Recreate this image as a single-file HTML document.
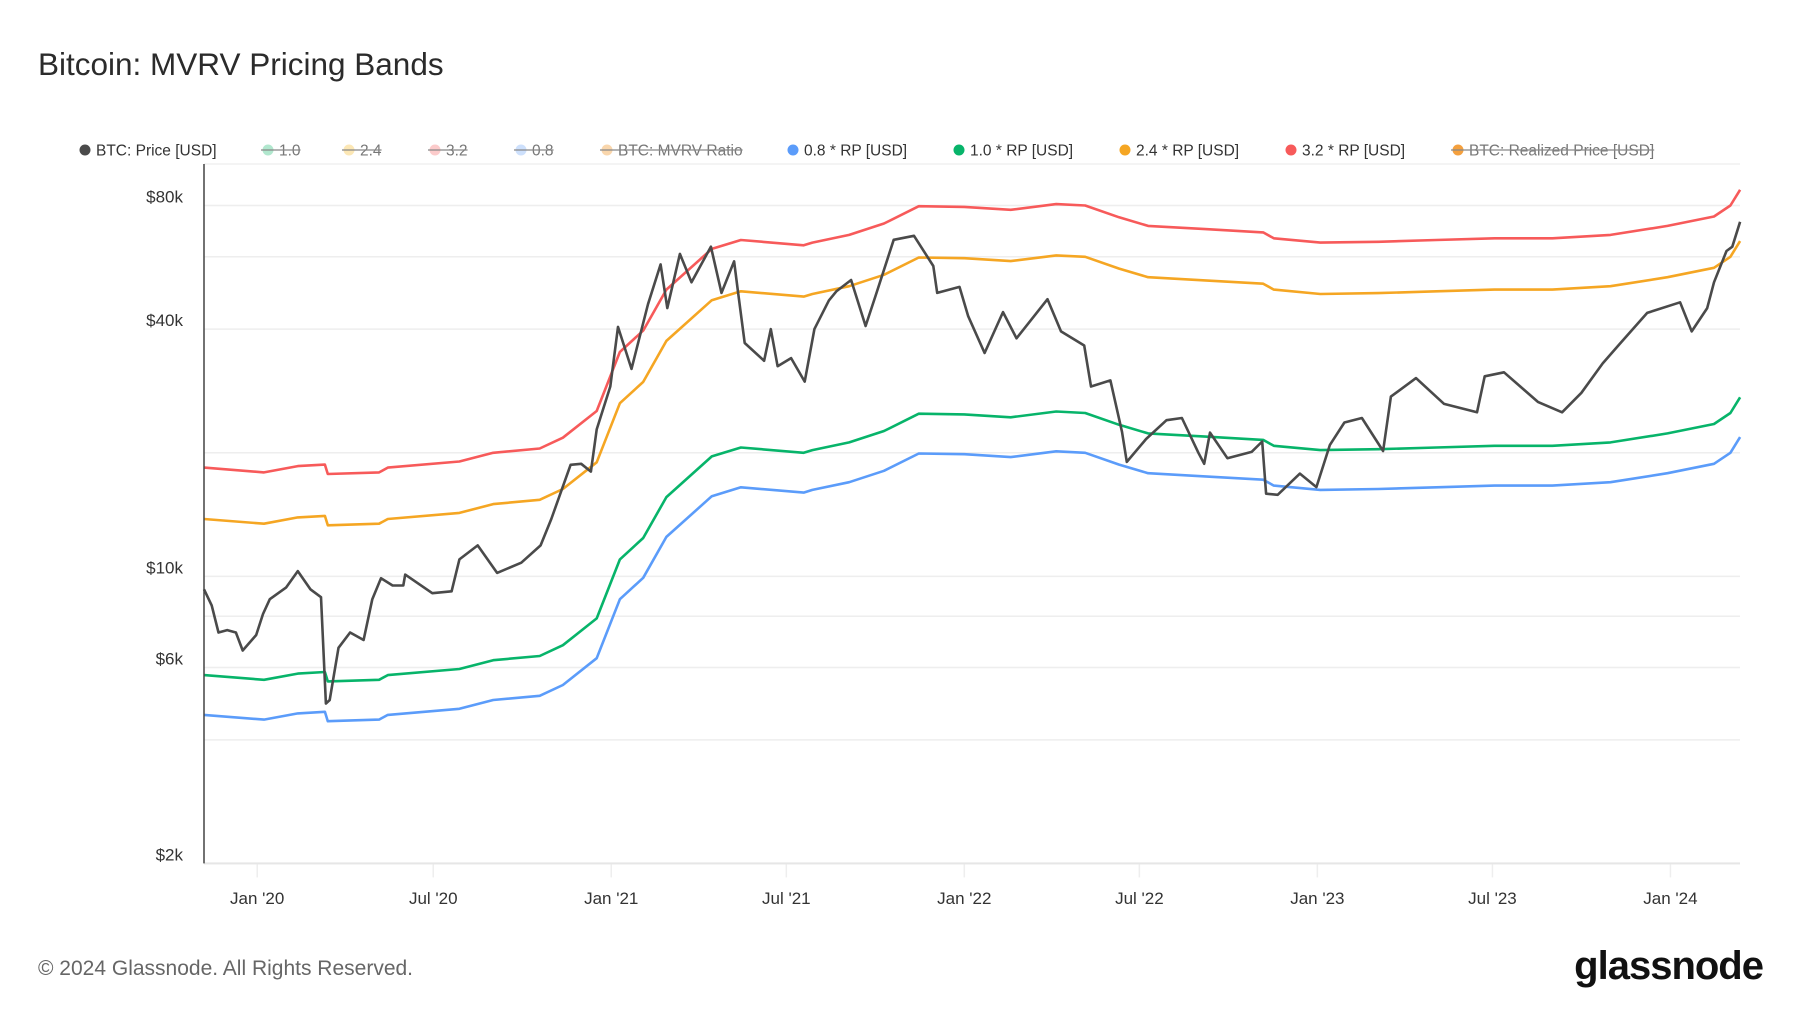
<!DOCTYPE html>
<html><head><meta charset="utf-8"><style>
html,body{margin:0;padding:0;background:#fff;}
body{width:1800px;height:1013px;position:relative;overflow:hidden;font-family:"Liberation Sans",sans-serif;}
</style></head><body>
<svg id="chart" width="1800" height="1013" xmlns="http://www.w3.org/2000/svg" style="position:absolute;left:0;top:0">
<text x="38" y="75" font-size="31.5" fill="#2b2b2b" font-family="Liberation Sans, sans-serif">Bitcoin: MVRV Pricing Bands</text>
<g id="legend" font-size="15.5" font-family="Liberation Sans, sans-serif"></g>
<g id="grid"></g>
<g id="series"></g>
<g id="axes"></g>
<text x="38" y="975" font-size="21" fill="#666">© 2024 Glassnode. All Rights Reserved.</text>
<text x="1763" y="979" text-anchor="end" font-size="40" font-weight="bold" fill="#111" letter-spacing="-1">glassnode</text>
</svg>
<script>
const yTicks=[2000,4000,6000,8000,10000,20000,40000,60000,80000];
const yLabels=["$2k","","$6k","","$10k","","$40k","","$80k"];
const xTickDates=["2020-01-01","2020-07-01","2021-01-01","2021-07-01","2022-01-01","2022-07-01","2023-01-01","2023-07-01","2024-01-01"];
const xTickLabels=["Jan '20","Jul '20","Jan '21","Jul '21","Jan '22","Jul '22","Jan '23","Jul '23","Jan '24"];
const priceDates=["2019-11-07","2019-11-15","2019-11-22","2019-12-01","2019-12-10","2019-12-17","2019-12-31","2020-01-07","2020-01-14","2020-01-31","2020-02-12","2020-02-25","2020-03-07","2020-03-12","2020-03-16","2020-03-25","2020-04-06","2020-04-20","2020-04-29","2020-05-08","2020-05-20","2020-05-31","2020-06-02","2020-06-30","2020-07-20","2020-07-28","2020-08-16","2020-09-05","2020-09-30","2020-10-20","2020-10-31","2020-11-20","2020-12-01","2020-12-11","2020-12-17","2020-12-31","2021-01-08","2021-01-22","2021-02-08","2021-02-21","2021-02-28","2021-03-13","2021-03-25","2021-04-14","2021-04-25","2021-05-08","2021-05-12","2021-05-19","2021-06-08","2021-06-15","2021-06-22","2021-07-06","2021-07-20","2021-07-30","2021-08-14","2021-08-22","2021-09-06","2021-09-21","2021-10-01","2021-10-20","2021-11-10","2021-11-30","2021-12-04","2021-12-27","2022-01-05","2022-01-22","2022-02-10","2022-02-24","2022-03-28","2022-04-11","2022-05-05","2022-05-12","2022-06-01","2022-06-13","2022-06-18","2022-07-08","2022-07-29","2022-08-14","2022-08-31","2022-09-06","2022-09-12","2022-09-30","2022-10-25","2022-11-05","2022-11-09","2022-11-21","2022-12-14","2022-12-31","2023-01-14","2023-01-29","2023-02-16","2023-03-10","2023-03-18","2023-04-13","2023-05-12","2023-06-15","2023-06-23","2023-07-13","2023-08-17","2023-09-11","2023-10-01","2023-10-23","2023-11-09","2023-12-08","2024-01-11","2024-01-23","2024-02-08","2024-02-15","2024-02-28","2024-03-05","2024-03-13"];
const priceValues=[9300,8500,7300,7400,7300,6600,7200,8100,8800,9400,10300,9300,8900,4900,5000,6700,7300,7000,8800,9900,9500,9500,10100,9100,9200,11000,11900,10200,10800,11900,13800,18700,18800,18000,22800,29000,40500,32000,46000,57500,45000,61000,52000,63500,49000,58500,49500,37000,33500,40000,32500,34000,29800,40000,47000,49500,52700,40700,48000,66000,67500,57000,49000,50700,43000,35000,44000,38000,47300,39500,36500,29000,30000,22500,19000,21600,24000,24300,20000,18800,22400,19400,20100,21300,15900,15800,17800,16500,20900,23700,24300,20200,27400,30400,26300,25100,30700,31400,26600,25100,28000,33000,36700,43800,46500,39500,45000,52000,62000,63500,73000];
const rpDates=["2019-11-07","2020-01-08","2020-02-12","2020-03-11","2020-03-14","2020-05-06","2020-05-15","2020-07-28","2020-09-01","2020-10-19","2020-11-12","2020-12-17","2021-01-10","2021-02-03","2021-02-27","2021-04-15","2021-05-15","2021-07-19","2021-07-28","2021-09-04","2021-10-10","2021-11-15","2022-01-01","2022-02-18","2022-04-06","2022-05-06","2022-06-10","2022-07-10","2022-09-07","2022-11-06","2022-11-17","2023-01-04","2023-03-05","2023-05-04","2023-07-03","2023-09-01","2023-10-31","2023-12-29","2024-02-15","2024-03-03","2024-03-13"];
const rpValues=[5750,5600,5800,5850,5550,5600,5750,5950,6250,6400,6800,7900,11000,12400,15600,19600,20600,20000,20300,21200,22600,24900,24800,24400,25200,25000,23400,22300,21900,21500,20800,20300,20400,20600,20800,20800,21200,22300,23500,25000,27300];
const bandMultipliers=[0.8,1.0,2.4,3.2];
const bandColors=["#5b9cfa","#07b46a","#f5a623","#f75a5a"];
const bandNames=["band-0-8-rp","band-1-0-rp","band-2-4-rp","band-3-2-rp"];

const NS="http://www.w3.org/2000/svg";
const X0=204,X1=1740,YT=164,YB=863.4;
const d0=Date.parse("2020-01-01"),dayPx=0.9673,xJan20=257.2;
function xs(d){return xJan20+(Date.parse(d)-d0)/86400000*dayPx;}
function ys(v){return 205.5+(Math.log10(80000)-Math.log10(v))*410.7;}
function mk(tag,attrs,parent){const e=document.createElementNS(NS,tag);for(const k in attrs)e.setAttribute(k,attrs[k]);parent.appendChild(e);return e;}

const grid=document.getElementById('grid'),axes=document.getElementById('axes'),series=document.getElementById('series');
mk('line',{x1:X0,x2:X1,y1:YT,y2:YT,stroke:'#f0f0f0','stroke-width':1.5},grid);
yTicks.forEach((v,i)=>{
  const y=ys(v);
  const l=mk('line',{x1:X0,x2:X1,y1:y,y2:y,stroke:'#eeeeee','stroke-width':1.5},grid);
  
  
  if(yLabels[i]){
    const t=mk('text',{x:183,y:y-3,'text-anchor':'end','font-size':17,fill:'#333'},axes);
    t.textContent=yLabels[i];
    
    
  }
});
xTickDates.forEach((d,i)=>{
  const x=xs(d);
  const l=mk('line',{x1:x,x2:x,y1:YB,y2:YB+14,stroke:'#eeeeee','stroke-width':1.5},axes);
  
  
  const t=mk('text',{x:x,y:904,'text-anchor':'middle','font-size':17,fill:'#333'},axes);
  t.textContent=xTickLabels[i];
  
  
});
mk('line',{x1:X0,x2:X1,y1:YB,y2:YB,stroke:'#e6e6e6','stroke-width':2},axes);
mk('line',{x1:X0,x2:X0,y1:YT,y2:YB,stroke:'#444','stroke-width':1.5},axes);

bandMultipliers.forEach((m,bi)=>{
  const pts=rpDates.map((d,i)=>xs(d).toFixed(1)+','+ys(rpValues[i]*m).toFixed(1)).join(' ');
  const p=mk('polyline',{points:pts,fill:'none',stroke:bandColors[bi],'stroke-width':2.6,'stroke-linejoin':'round'},series);
  
  
});
const pp=priceDates.map((d,i)=>xs(d).toFixed(1)+','+ys(priceValues[i]).toFixed(1)).join(' ');
const price=mk('polyline',{points:pp,fill:'none',stroke:'#4a4a4a','stroke-width':2.6,'stroke-linejoin':'round'},series);



const legend=document.getElementById('legend');
const legendItems=[["BTC: Price [USD]","#4a4a4a",false,80],["1.0","#a3e3c6",true,263],["2.4","#fbe3a8",true,344],["3.2","#fbc2c2",true,430],["0.8","#c4dafb",true,516],["BTC: MVRV Ratio","#f8cf9e",true,602],["0.8 * RP [USD]","#5b9cfa",false,788],["1.0 * RP [USD]","#07b46a",false,954],["2.4 * RP [USD]","#f5a623",false,1120],["3.2 * RP [USD]","#f75a5a",false,1286],["BTC: Realized Price [USD]","#f28f1c",true,1453]];
legendItems.forEach(it=>{
  const g=mk('g',{},legend);
  
  
  mk('circle',{cx:it[3]+5,cy:150,r:5.5,fill:it[1],opacity:it[2]?0.85:1},g);
  const t=mk('text',{x:it[3]+16,y:155.5,fill:it[2]?'#777':'#333'},g);
  t.textContent=it[0];
  if(it[2]){
    const w=t.getComputedTextLength();
    mk('line',{x1:it[3]-2,x2:it[3]+16+w,y1:150,y2:150,stroke:'#888','stroke-width':1.2},g);
  }
});
</script>
</body></html>
